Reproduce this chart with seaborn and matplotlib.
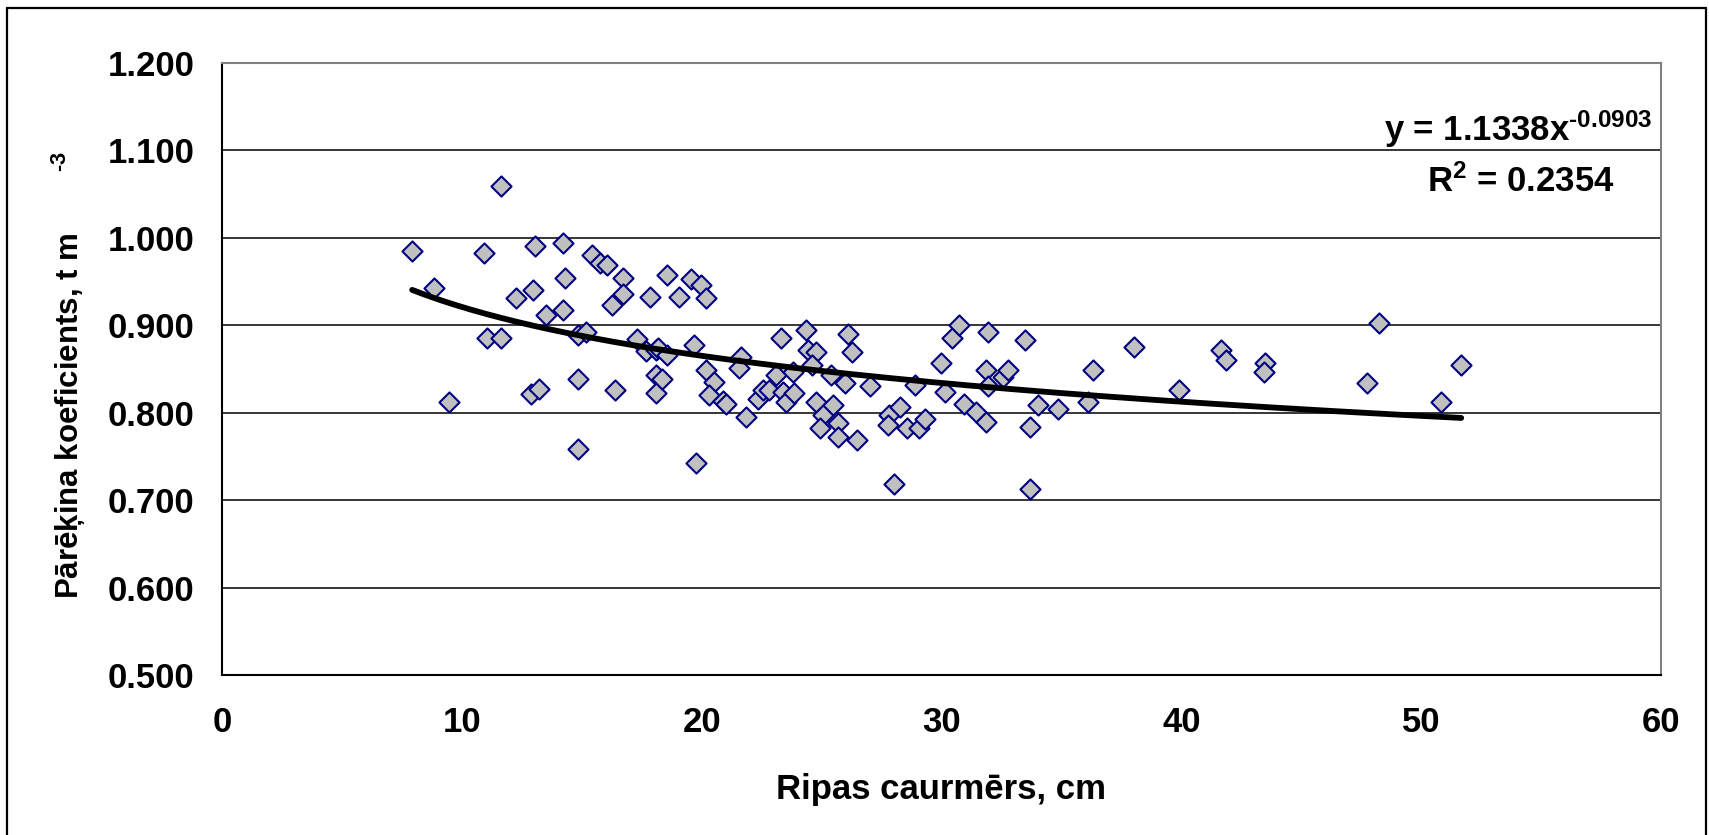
import numpy as np
import pandas as pd
import seaborn as sns
import matplotlib.pyplot as plt
from matplotlib.lines import Line2D

# disc diameter (cm) and conversion coefficient (t m-3)
diameter = [7.93, 8.85, 9.47, 10.92, 11.03, 11.65, 11.65, 12.25, 12.88, 12.97,
            13.07, 13.2, 13.5, 14.21, 14.22, 14.32, 14.85, 14.85, 14.85, 15.17,
            15.44, 15.75, 16.05, 16.28, 16.39, 16.7, 16.7, 17.3, 17.7, 17.83,
            18.1, 18.1, 18.1, 18.2, 18.36, 18.54, 18.57, 19.05, 19.57, 19.67,
            19.78, 19.99, 20.2, 20.2, 20.51, 20.3, 20.89, 21.03, 21.65, 21.55,
            21.86, 22.35, 22.55, 22.8, 23.08, 23.29, 23.39, 23.5, 23.8, 23.85,
            24.33, 24.43, 24.75, 24.6, 24.75, 25.05, 24.92, 25.47, 25.4, 25.68,
            25.68, 25.99, 26.1, 26.28, 26.49, 27.0, 27.83, 27.76, 28.28, 28.55,
            28.04, 28.88, 29.08, 29.32, 29.99, 30.13, 30.45, 30.72, 30.93, 31.42,
            31.86, 31.96, 31.86, 31.96, 32.55, 32.79, 33.5, 34.01, 33.71, 33.71,
            34.85, 36.1, 36.3, 38.04, 39.89, 41.65, 41.86, 43.5, 43.46, 48.25,
            47.74, 51.67, 50.83]
coefficient = [0.985, 0.943, 0.812, 0.983, 0.886, 1.059, 0.886, 0.931, 0.821, 0.940,
               0.991, 0.827, 0.912, 0.994, 0.917, 0.954, 0.889, 0.838, 0.758, 0.892,
               0.980, 0.971, 0.969, 0.923, 0.826, 0.954, 0.936, 0.884, 0.870, 0.932,
               0.872, 0.843, 0.823, 0.874, 0.838, 0.957, 0.866, 0.932, 0.953, 0.878,
               0.742, 0.946, 0.931, 0.849, 0.835, 0.820, 0.813, 0.810, 0.864, 0.851,
               0.795, 0.816, 0.826, 0.826, 0.843, 0.886, 0.824, 0.812, 0.847, 0.823,
               0.895, 0.872, 0.869, 0.855, 0.812, 0.797, 0.782, 0.809, 0.843, 0.788,
               0.772, 0.834, 0.890, 0.869, 0.769, 0.831, 0.797, 0.786, 0.807, 0.782,
               0.718, 0.832, 0.782, 0.793, 0.857, 0.824, 0.886, 0.900, 0.810, 0.801,
               0.789, 0.892, 0.849, 0.831, 0.841, 0.849, 0.883, 0.809, 0.784, 0.713,
               0.804, 0.812, 0.849, 0.875, 0.826, 0.872, 0.860, 0.857, 0.846, 0.903,
               0.834, 0.854, 0.812]

# power trendline shown on the chart: y = a * x^b
fit_a = 1.1338
fit_b = -0.0903
r_squared = 0.2354

x_ticks = [0, 10, 20, 30, 40, 50, 60]
y_ticks = [0.5, 0.6, 0.7, 0.8, 0.9, 1.0, 1.1, 1.2]

df = pd.DataFrame({"d": diameter, "k": coefficient})
xs = np.linspace(df["d"].min(), df["d"].max(), 200)
trend = pd.DataFrame({"d": xs, "k": fit_a * xs ** fit_b})

sns.set_style("white")
plt.rcParams['font.family'] = ['Liberation Sans', 'DejaVu Sans']
plt.rcParams['font.weight'] = 'bold'
plt.rcParams['text.color'] = 'black'
plt.rcParams['axes.labelcolor'] = 'black'
plt.rcParams['xtick.color'] = 'black'
plt.rcParams['ytick.color'] = 'black'
plt.rcParams['mathtext.fontset'] = 'custom'
plt.rcParams['mathtext.rm'] = 'Liberation Sans:bold'
plt.rcParams['mathtext.bf'] = 'Liberation Sans:bold'
plt.rcParams['mathtext.it'] = 'Liberation Sans:bold'
plt.rcParams['mathtext.default'] = 'rm'

fig = plt.figure(figsize=(17.09, 8.35), dpi=100)
ax = fig.add_axes([0.1299, 0.1916, 0.842, 0.7330])

sns.scatterplot(data=df, x="d", y="k", ax=ax, marker="D", s=105,
                color="#C0C0C0", edgecolor="#000080", linewidth=1.5, zorder=3)
sns.lineplot(data=trend, x="d", y="k", ax=ax, color="black", linewidth=4.2, zorder=4)

ax.set_xlim(0, 60)
ax.set_ylim(0.5, 1.2)
ax.set_xticks(x_ticks)
ax.set_yticks(y_ticks)
ax.set_yticklabels([f"{v:.3f}" for v in y_ticks])
ax.tick_params(axis="x", length=8, width=1.5, pad=14, labelsize=25, direction="out")
ax.tick_params(axis="y", length=7, width=1.5, pad=13, labelsize=25, direction="out")
ax.yaxis.grid(True, color="black", linewidth=1.1)
ax.set_axisbelow(True)

for side in ["left", "bottom"]:
    ax.spines[side].set_color("black")
    ax.spines[side].set_linewidth(1.5)
for side in ["top", "right"]:
    ax.spines[side].set_color("#808080")
    ax.spines[side].set_linewidth(1.5)

ax.set_xlabel("Ripas caurmērs, cm", fontsize=25, fontweight="bold")
ax.xaxis.set_label_coords(0.5, -0.16)
ax.set_ylabel(r"Pārēķina koeficients, t m       $^{\text{-3}}$", fontsize=22.5, fontweight="bold")
ax.yaxis.set_label_coords(-0.093, 0.49)

ax.text(0.994, 0.8725, r"y = 1.1338x$^{\text{-0.0903}}$", transform=ax.transAxes,
        ha="right", va="baseline", fontsize=25, fontweight="bold")
ax.text(0.968, 0.789, f"R$^{{2}}$ = {r_squared:.4f}", transform=ax.transAxes,
        ha="right", va="baseline", fontsize=25, fontweight="bold")

# outer chart frame
for xs_, ys_ in [([7.5 / 1709, 7.5 / 1709], [0, 1 - 7.5 / 835]),
                 ([7.5 / 1709, 1706 / 1709], [1 - 7.5 / 835, 1 - 7.5 / 835]),
                 ([1706 / 1709, 1706 / 1709], [0, 1 - 7.5 / 835])]:
    fig.add_artist(Line2D(xs_, ys_, color="black", linewidth=1.6, transform=fig.transFigure))

fig.savefig("out.png", dpi=100)
